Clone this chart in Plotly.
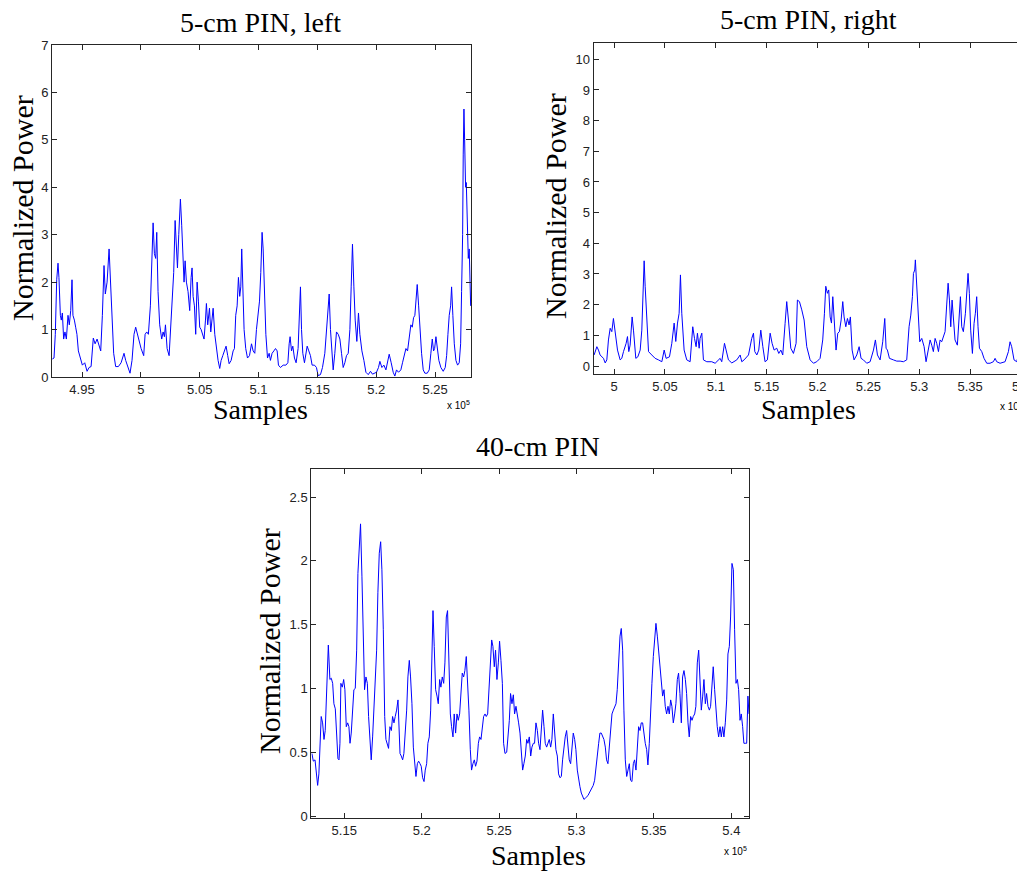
import plotly.graph_objects as go

# x values in units of 1e5 samples
left_x = [4.9248, 4.9262, 4.9273, 4.9285, 4.9296, 4.9304, 4.9316, 4.9324, 4.9333, 4.9344, 4.9355, 4.9367,
          4.9381, 4.9392, 4.9404, 4.9415, 4.9423, 4.9435, 4.9446, 4.9457, 4.9469, 4.9486, 4.9503, 4.9523,
          4.9543, 4.9560, 4.9577, 4.9596, 4.9611, 4.9628, 4.9645, 4.9659, 4.9673, 4.9687, 4.9698, 4.9713,
          4.9730, 4.9744, 4.9758, 4.9769, 4.9786, 4.9809, 4.9832, 4.9849, 4.9857, 4.9871, 4.9888, 4.9908,
          4.9925, 4.9942, 4.9956, 4.9970, 4.9985, 5.0002, 5.0024, 5.0036, 5.0050, 5.0064, 5.0081, 5.0092,
          5.0104, 5.0115, 5.0126, 5.0135, 5.0146, 5.0160, 5.0177, 5.0189, 5.0200, 5.0209, 5.0223, 5.0240,
          5.0254, 5.0268, 5.0279, 5.0291, 5.0302, 5.0311, 5.0322, 5.0330, 5.0336, 5.0347, 5.0356, 5.0367,
          5.0376, 5.0387, 5.0401, 5.0415, 5.0427, 5.0435, 5.0444, 5.0455, 5.0466, 5.0478, 5.0489, 5.0500,
          5.0512, 5.0523, 5.0537, 5.0549, 5.0557, 5.0568, 5.0583, 5.0594, 5.0605, 5.0614, 5.0628, 5.0642,
          5.0656, 5.0670, 5.0682, 5.0696, 5.0710, 5.0724, 5.0738, 5.0750, 5.0767, 5.0784, 5.0795, 5.0806,
          5.0818, 5.0829, 5.0840, 5.0849, 5.0857, 5.0866, 5.0877, 5.0891, 5.0906, 5.0923, 5.0940, 5.0954,
          5.0968, 5.0982, 5.0996, 5.1008, 5.1019, 5.1030, 5.1039, 5.1050, 5.1062, 5.1076, 5.1090, 5.1101,
          5.1115, 5.1130, 5.1144, 5.1158, 5.1169, 5.1186, 5.1209, 5.1232, 5.1249, 5.1260, 5.1268, 5.1280,
          5.1291, 5.1305, 5.1319, 5.1336, 5.1348, 5.1356, 5.1365, 5.1376, 5.1390, 5.1402, 5.1413, 5.1427,
          5.1441, 5.1455, 5.1475, 5.1492, 5.1506, 5.1526, 5.1543, 5.1563, 5.1577, 5.1591, 5.1600, 5.1611,
          5.1623, 5.1634, 5.1648, 5.1662, 5.1677, 5.1691, 5.1705, 5.1719, 5.1733, 5.1747, 5.1762, 5.1776,
          5.1787, 5.1798, 5.1810, 5.1821, 5.1835, 5.1849, 5.1861, 5.1878, 5.1895, 5.1912, 5.1932, 5.1951,
          5.1968, 5.1985, 5.2002, 5.2019, 5.2031, 5.2048, 5.2065, 5.2082, 5.2099, 5.2110, 5.2127, 5.2144,
          5.2158, 5.2172, 5.2189, 5.2209, 5.2223, 5.2240, 5.2252, 5.2266, 5.2280, 5.2294, 5.2306, 5.2317,
          5.2328, 5.2340, 5.2348, 5.2360, 5.2371, 5.2385, 5.2399, 5.2413, 5.2433, 5.2450, 5.2464, 5.2476,
          5.2487, 5.2496, 5.2507, 5.2518, 5.2532, 5.2549, 5.2569, 5.2586, 5.2598, 5.2609, 5.2620, 5.2632,
          5.2640, 5.2651, 5.2663, 5.2677, 5.2691, 5.2705, 5.2717, 5.2725, 5.2734, 5.2739, 5.2745, 5.2751,
          5.2759, 5.2765, 5.2773, 5.2782, 5.2790, 5.2796, 5.2802]
left_y = [0.38, 0.4, 0.9, 2.05, 2.4, 2.1, 1.3, 1.2, 1.35, 0.8, 0.95, 0.8,
          1.3, 1.1, 1.4, 2.05, 1.3, 1.2, 1.05, 0.9, 0.55, 0.4, 0.25, 0.3,
          0.12, 0.2, 0.22, 0.82, 0.7, 0.8, 0.65, 0.55, 1.3, 2.35, 1.75, 2.0,
          2.7, 1.95, 1.0, 0.5, 0.22, 0.22, 0.3, 0.45, 0.5, 0.35, 0.2, 0.08,
          0.35, 0.9, 1.05, 0.9, 0.75, 0.6, 0.45, 0.9, 0.95, 0.9, 1.5, 2.5,
          3.25, 2.6, 2.5, 3.05, 1.8, 1.1, 0.8, 0.95, 0.85, 1.1, 0.6, 0.45,
          1.0, 1.6, 2.2, 3.3, 2.6, 2.3, 3.0, 3.5, 3.75, 3.2, 2.6, 2.0,
          2.45, 2.0, 1.8, 1.4, 2.1, 2.3, 1.7, 1.5, 0.9, 2.0, 1.6, 1.05,
          1.0, 0.9, 0.8, 1.2, 1.55, 1.1, 1.45, 0.95, 1.2, 1.45, 0.9, 0.6,
          0.35, 0.18, 0.35, 0.45, 0.55, 0.65, 0.45, 0.28, 0.35, 0.55, 0.6, 1.3,
          1.5, 2.1, 1.7, 1.9, 2.7, 1.6, 1.0, 0.6, 0.4, 0.45, 0.7, 0.55,
          0.5, 1.0, 1.4, 1.6, 2.2, 3.05, 2.7, 1.6, 0.9, 0.4, 0.5, 0.35,
          0.5, 0.55, 0.6, 0.55, 0.25, 0.2, 0.25, 0.25, 0.3, 0.7, 0.85, 0.55,
          0.65, 0.4, 0.3, 0.6, 1.3, 1.9, 1.0, 0.5, 0.3, 0.55, 0.65, 0.55,
          0.45, 0.25, 0.25, 0.2, 0.03, 0.05, 0.2, 0.5, 0.95, 1.5, 1.75, 1.0,
          0.5, 0.15, 0.5, 0.95, 0.9, 0.8, 0.5, 0.2, 0.3, 0.45, 0.5, 1.0,
          1.9, 2.8, 1.9, 1.2, 0.75, 1.35, 0.9, 0.55, 0.35, 0.1, 0.05, 0.12,
          0.06, 0.08, 0.1, 0.2, 0.33, 0.2, 0.25, 0.15, 0.35, 0.48, 0.3, 0.1,
          0.02, 0.15, 0.1, 0.15, 0.3, 0.45, 0.6, 0.55, 0.8, 1.1, 1.05, 1.25,
          1.3, 1.6, 1.95, 1.5, 1.0, 0.5, 0.15, 0.08, 0.08, 0.15, 0.5, 0.8,
          0.55, 0.6, 0.85, 0.6, 0.35, 0.2, 0.12, 0.2, 0.45, 0.9, 1.3, 1.5,
          1.9, 1.3, 0.7, 0.35, 0.25, 0.3, 0.7, 1.8, 3.0, 4.7, 5.65, 5.0,
          4.0, 4.1, 3.2, 2.5, 2.7, 2.2, 1.5]

right_x = [4.9803, 4.9830, 4.9846, 4.9862, 4.9895, 4.9912, 4.9928, 4.9944, 4.9961, 4.9977, 4.9993, 5.0010,
           5.0033, 5.0059, 5.0075, 5.0092, 5.0118, 5.0131, 5.0144, 5.0157, 5.0177, 5.0190, 5.0213, 5.0233,
           5.0256, 5.0272, 5.0285, 5.0295, 5.0305, 5.0321, 5.0338, 5.0370, 5.0403, 5.0436, 5.0469, 5.0492,
           5.0511, 5.0544, 5.0567, 5.0590, 5.0606, 5.0623, 5.0639, 5.0652, 5.0665, 5.0688, 5.0714, 5.0747,
           5.0773, 5.0790, 5.0806, 5.0819, 5.0836, 5.0845, 5.0862, 5.0878, 5.0911, 5.0960, 5.0993, 5.1042,
           5.1058, 5.1085, 5.1101, 5.1124, 5.1157, 5.1206, 5.1239, 5.1255, 5.1278, 5.1321, 5.1353, 5.1370,
           5.1383, 5.1403, 5.1422, 5.1442, 5.1462, 5.1484, 5.1507, 5.1534, 5.1553, 5.1573, 5.1599, 5.1619,
           5.1639, 5.1658, 5.1681, 5.1697, 5.1714, 5.1737, 5.1763, 5.1789, 5.1802, 5.1822, 5.1845, 5.1868,
           5.1894, 5.1927, 5.1960, 5.1992, 5.2025, 5.2051, 5.2068, 5.2081, 5.2097, 5.2110, 5.2124, 5.2137,
           5.2150, 5.2163, 5.2182, 5.2199, 5.2215, 5.2232, 5.2248, 5.2261, 5.2278, 5.2294, 5.2310, 5.2323,
           5.2340, 5.2359, 5.2386, 5.2409, 5.2428, 5.2451, 5.2484, 5.2517, 5.2550, 5.2569, 5.2589, 5.2615,
           5.2641, 5.2661, 5.2674, 5.2687, 5.2707, 5.2746, 5.2779, 5.2812, 5.2844, 5.2877, 5.2900, 5.2917,
           5.2933, 5.2943, 5.2956, 5.2962, 5.2976, 5.2989, 5.3005, 5.3025, 5.3048, 5.3067, 5.3090, 5.3107,
           5.3123, 5.3139, 5.3156, 5.3172, 5.3189, 5.3205, 5.3221, 5.3238, 5.3254, 5.3270, 5.3284, 5.3297,
           5.3310, 5.3323, 5.3336, 5.3352, 5.3375, 5.3392, 5.3405, 5.3418, 5.3434, 5.3454, 5.3467, 5.3480,
           5.3493, 5.3506, 5.3523, 5.3539, 5.3552, 5.3565, 5.3578, 5.3592, 5.3615, 5.3637, 5.3664, 5.3696,
           5.3729, 5.3746, 5.3762, 5.3795, 5.3844, 5.3877, 5.3893, 5.3909, 5.3932, 5.3959, 5.3982, 5.4001,
           5.4011, 5.4024, 5.4037]
right_y = [0.36, 0.63, 0.52, 0.36, 0.25, 0.1, 0.2, 0.85, 1.23, 1.12, 1.55, 1.17,
           0.52, 0.2, 0.25, 0.47, 0.74, 0.96, 0.47, 0.68, 1.6, 1.17, 0.25, 0.3,
           0.52, 1.17, 2.7, 3.43, 2.6, 1.7, 0.47, 0.36, 0.25, 0.2, 0.14, 0.52,
           0.25, 0.3, 0.74, 1.4, 0.8, 1.4, 1.72, 2.97, 1.72, 0.52, 0.2, 0.14,
           1.28, 0.9, 0.63, 1.07, 0.58, 0.9, 1.07, 0.2, 0.14, 0.14, 0.09, 0.25,
           0.14, 0.74, 0.47, 0.2, 0.1, 0.2, 0.36, 0.14, 0.2, 0.36, 0.9, 1.07,
           0.47, 0.36, 0.52, 1.17, 0.63, 0.14, 0.2, 1.07, 0.74, 0.52, 0.58, 0.41,
           0.52, 0.36, 1.39, 2.1, 1.5, 0.58, 0.41, 0.74, 2.15, 2.1, 1.83, 1.5,
           0.63, 0.2, 0.09, 0.14, 0.25, 0.85, 1.72, 2.6, 2.37, 2.48, 1.6, 1.4,
           2.26, 1.5, 0.52, 1.07, 1.12, 1.5, 2.1, 1.6, 1.28, 1.55, 1.34, 1.6,
           0.52, 0.2, 0.36, 0.63, 0.25, 0.2, 0.09, 0.14, 0.52, 0.85, 0.36, 0.2,
           0.79, 1.55, 0.58, 0.52, 0.25, 0.2, 0.16, 0.16, 0.14, 0.2, 1.28, 1.66,
           2.26, 3.02, 3.13, 3.46, 2.48, 1.72, 0.79, 0.9, 0.63, 0.14, 0.52, 0.85,
           0.68, 0.47, 0.9, 0.74, 0.47, 0.85, 0.79, 1.01, 1.12, 1.99, 2.7, 2.15,
           1.28, 2.15, 1.39, 0.85, 0.68, 1.6, 2.26, 1.28, 1.12, 1.72, 2.37, 3.02,
           2.37, 1.17, 0.41, 1.39, 1.72, 2.26, 1.28, 0.58, 0.47, 0.25, 0.09, 0.09,
           0.14, 0.25, 0.14, 0.09, 0.14, 0.47, 0.79, 0.63, 0.2, 0.14, 0.47, 2.26,
           2.7, 2.26, 1.5]

long_x = [5.1291, 5.1300, 5.1311, 5.1321, 5.1328, 5.1336, 5.1343, 5.1351, 5.1360, 5.1369, 5.1377, 5.1386,
          5.1397, 5.1407, 5.1416, 5.1425, 5.1433, 5.1442, 5.1450, 5.1459, 5.1466, 5.1472, 5.1478, 5.1487,
          5.1496, 5.1504, 5.1513, 5.1522, 5.1530, 5.1537, 5.1545, 5.1554, 5.1562, 5.1571, 5.1580, 5.1588,
          5.1597, 5.1605, 5.1614, 5.1623, 5.1631, 5.1640, 5.1649, 5.1657, 5.1666, 5.1674, 5.1683, 5.1692,
          5.1700, 5.1709, 5.1717, 5.1726, 5.1735, 5.1743, 5.1752, 5.1761, 5.1769, 5.1778, 5.1786, 5.1795,
          5.1804, 5.1812, 5.1821, 5.1829, 5.1838, 5.1847, 5.1853, 5.1860, 5.1868, 5.1877, 5.1885, 5.1894,
          5.1903, 5.1911, 5.1920, 5.1928, 5.1937, 5.1946, 5.1954, 5.1963, 5.1972, 5.1980, 5.1989, 5.1997,
          5.2006, 5.2015, 5.2023, 5.2032, 5.2040, 5.2049, 5.2058, 5.2066, 5.2073, 5.2081, 5.2090, 5.2099,
          5.2107, 5.2116, 5.2124, 5.2133, 5.2142, 5.2150, 5.2159, 5.2167, 5.2176, 5.2185, 5.2193, 5.2202,
          5.2210, 5.2219, 5.2228, 5.2236, 5.2245, 5.2254, 5.2262, 5.2271, 5.2279, 5.2288, 5.2297, 5.2305,
          5.2314, 5.2322, 5.2331, 5.2340, 5.2348, 5.2357, 5.2366, 5.2374, 5.2383, 5.2391, 5.2400, 5.2409,
          5.2417, 5.2426, 5.2434, 5.2443, 5.2452, 5.2460, 5.2469, 5.2477, 5.2486, 5.2495, 5.2503, 5.2512,
          5.2521, 5.2529, 5.2538, 5.2549, 5.2557, 5.2566, 5.2574, 5.2583, 5.2592, 5.2600, 5.2609, 5.2617,
          5.2626, 5.2635, 5.2643, 5.2652, 5.2660, 5.2669, 5.2678, 5.2686, 5.2695, 5.2704, 5.2712, 5.2721,
          5.2729, 5.2738, 5.2747, 5.2755, 5.2764, 5.2772, 5.2781, 5.2790, 5.2798, 5.2807, 5.2815, 5.2824,
          5.2833, 5.2841, 5.2850, 5.2859, 5.2867, 5.2876, 5.2884, 5.2893, 5.2902, 5.2910, 5.2919, 5.2927,
          5.2936, 5.2945, 5.2953, 5.2962, 5.2971, 5.2979, 5.2988, 5.2996, 5.3005, 5.3014, 5.3022, 5.3031,
          5.3039, 5.3048, 5.3057, 5.3065, 5.3074, 5.3082, 5.3091, 5.3100, 5.3108, 5.3117, 5.3126, 5.3134,
          5.3143, 5.3151, 5.3160, 5.3169, 5.3177, 5.3186, 5.3194, 5.3203, 5.3212, 5.3220, 5.3229, 5.3238,
          5.3246, 5.3255, 5.3263, 5.3272, 5.3281, 5.3289, 5.3298, 5.3306, 5.3315, 5.3324, 5.3332, 5.3341,
          5.3349, 5.3358, 5.3367, 5.3375, 5.3384, 5.3392, 5.3401, 5.3410, 5.3418, 5.3427, 5.3436, 5.3444,
          5.3453, 5.3461, 5.3470, 5.3479, 5.3487, 5.3496, 5.3504, 5.3513, 5.3522, 5.3530, 5.3539, 5.3548,
          5.3556, 5.3565, 5.3573, 5.3582, 5.3591, 5.3599, 5.3608, 5.3616, 5.3625, 5.3634, 5.3642, 5.3651,
          5.3659, 5.3668, 5.3677, 5.3685, 5.3694, 5.3703, 5.3711, 5.3720, 5.3728, 5.3737, 5.3746, 5.3754,
          5.3763, 5.3771, 5.3780, 5.3789, 5.3797, 5.3806, 5.3815, 5.3823, 5.3832, 5.3840, 5.3849, 5.3858,
          5.3866, 5.3875, 5.3883, 5.3892, 5.3901, 5.3909, 5.3918, 5.3927, 5.3935, 5.3944, 5.3952, 5.3961,
          5.3970, 5.3978, 5.3987, 5.3995, 5.4004, 5.4013, 5.4021, 5.4030, 5.4039, 5.4047, 5.4056, 5.4064,
          5.4073, 5.4081, 5.4090, 5.4099, 5.4107, 5.4114]
long_y = [0.49, 0.43, 0.44, 0.28, 0.24, 0.33, 0.57, 0.78, 0.73, 0.6, 0.67, 0.99,
          1.34, 1.07, 1.08, 1.04, 0.88, 0.84, 0.65, 0.45, 0.44, 0.57, 1.04, 1.01,
          1.07, 0.99, 0.7, 0.73, 0.7, 0.57, 0.65, 0.83, 0.99, 1.0, 1.3, 1.9,
          2.14, 2.29, 1.88, 1.3, 0.99, 1.09, 1.04, 0.78, 0.57, 0.44, 0.62, 0.88,
          1.09, 1.3, 1.75, 2.06, 2.15, 1.93, 1.46, 0.78, 0.6, 0.57, 0.53, 0.7,
          0.67, 0.78, 0.73, 0.78, 0.83, 0.91, 0.67, 0.49, 0.47, 0.44, 0.49, 0.65,
          0.83, 1.09, 1.22, 1.09, 0.88, 0.54, 0.41, 0.31, 0.41, 0.43, 0.41, 0.39,
          0.3, 0.27, 0.36, 0.41, 0.57, 0.62, 0.83, 1.38, 1.61, 1.33, 0.99, 0.94,
          0.88, 1.07, 1.01, 1.09, 1.04, 1.2, 1.56, 1.61, 1.27, 0.8, 0.7, 0.62,
          0.8, 0.65, 0.8, 0.75, 0.8, 0.99, 1.12, 1.09, 1.14, 1.25, 1.07, 0.83,
          0.52, 0.36, 0.41, 0.44, 0.39, 0.43, 0.57, 0.62, 0.6, 0.67, 0.78, 0.8,
          0.78, 0.8, 0.99, 1.2, 1.38, 1.33, 1.17, 1.3, 1.07, 1.2, 1.37, 1.22,
          1.04, 0.57, 0.49, 0.5, 0.62, 0.75, 0.96, 0.88, 0.95, 0.8, 0.86, 0.78,
          0.73, 0.65, 0.47, 0.36, 0.41, 0.47, 0.6, 0.57, 0.62, 0.47, 0.54, 0.57,
          0.57, 0.73, 0.67, 0.57, 0.52, 0.67, 0.83, 0.7, 0.57, 0.54, 0.57, 0.6,
          0.54, 0.6, 0.8, 0.62, 0.52, 0.47, 0.33, 0.3, 0.31, 0.44, 0.57, 0.62,
          0.67, 0.57, 0.44, 0.41, 0.57, 0.65, 0.6, 0.52, 0.36, 0.28, 0.23, 0.18,
          0.15, 0.13, 0.14, 0.15, 0.16, 0.18, 0.2, 0.23, 0.24, 0.28, 0.36, 0.47,
          0.57, 0.65, 0.65, 0.62, 0.6, 0.54, 0.44, 0.41, 0.57, 0.7, 0.8, 0.83,
          0.86, 0.88, 0.99, 1.25, 1.41, 1.47, 1.3, 0.83, 0.44, 0.31, 0.36, 0.41,
          0.28, 0.27, 0.41, 0.44, 0.36, 0.52, 0.7, 0.67, 0.73, 0.73, 0.62, 0.57,
          0.52, 0.4, 0.57, 0.88, 1.04, 1.25, 1.41, 1.51, 1.41, 1.3, 1.17, 1.04,
          0.94, 0.99, 0.86, 0.8, 0.86, 0.8, 0.91, 0.86, 0.73, 0.8, 0.88, 1.07,
          1.12, 0.96, 0.73, 1.09, 1.14, 1.07, 0.96, 0.73, 0.62, 0.78, 0.75, 0.78,
          0.8, 0.86, 1.2, 1.3, 0.99, 0.83, 0.94, 1.07, 0.88, 0.96, 0.86, 0.83,
          0.86, 1.07, 1.17, 0.99, 0.78, 0.7, 0.62, 0.7, 0.62, 0.7, 0.62, 0.73,
          0.91, 1.27, 1.33, 1.56, 1.98, 1.93, 1.46, 1.04, 1.07, 0.99, 0.75, 0.8,
          0.7, 0.57, 0.57, 0.57, 0.94, 0.8]

left_ticks = [4.95, 5.0, 5.05, 5.1, 5.15, 5.2, 5.25]
left_ticktext = ['4.95', '5', '5.05', '5.1', '5.15', '5.2', '5.25']
right_ticks = [5.0, 5.05, 5.1, 5.15, 5.2, 5.25, 5.3, 5.35, 5.4]
right_ticktext = ['5', '5.05', '5.1', '5.15', '5.2', '5.25', '5.3', '5.35', '5.4']
long_ticks = [5.15, 5.2, 5.25, 5.3, 5.35, 5.4]
long_ticktext = ['5.15', '5.2', '5.25', '5.3', '5.35', '5.4']

# the page puts the plot 8px in from the top-left corner, so the figure is
# sized to fill the rest of the window and positions below are page pixels
OFF = 8
W, H = 1025 - OFF, 872 - OFF
serif = 'Liberation Serif, Times New Roman, serif'
sans = 'Liberation Sans, Arial, sans-serif'
line_col = '#262626'


def px(x):
    return (x - OFF) / W


def py(y):
    return 1 - (y - OFF) / H


def axis(dom, rng, anchor, tickvals, ticktext=None):
    d = dict(domain=dom, range=rng, anchor=anchor, tickvals=tickvals, automargin=False,
             showline=True, linecolor=line_col, linewidth=1, mirror='ticks',
             ticks='inside', ticklen=5, tickcolor=line_col, showgrid=False, zeroline=False,
             ticklabeloverflow='allow',
             tickfont=dict(family=sans, size=13, color='#222'))
    if ticktext is not None:
        d['ticktext'] = ticktext
    return d


fig = go.Figure()
blue = dict(color='#0000ff', width=1)
fig.add_trace(go.Scatter(x=left_x, y=left_y, mode='lines', line=blue, xaxis='x', yaxis='y'))
fig.add_trace(go.Scatter(x=right_x, y=right_y, mode='lines', line=blue, xaxis='x2', yaxis='y2'))
fig.add_trace(go.Scatter(x=long_x, y=long_y, mode='lines', line=blue, xaxis='x3', yaxis='y3'))

fig.update_layout(
    width=W, height=H, margin=dict(l=0, r=0, t=0, b=0, pad=0),
    paper_bgcolor='white', plot_bgcolor='white', showlegend=False,
    xaxis=axis([px(52), px(471)], [4.9245, 5.2805], 'y', left_ticks, left_ticktext),
    yaxis=axis([py(377), py(45)], [0, 7], 'x', list(range(0, 8))),
    xaxis2=axis([px(593.5), 1.0], [4.9797, 5.404], 'y2', right_ticks, right_ticktext),
    yaxis2=axis([py(374.3), py(42.7)], [-0.27, 10.54], 'x2', list(range(0, 11))),
    xaxis3=axis([px(311.3), px(749)], [5.1287, 5.4114], 'y3', long_ticks, long_ticktext),
    yaxis3=axis([py(818.3), py(469)], [-0.018, 2.72], 'x3', [0, 0.5, 1, 1.5, 2, 2.5],
                ['0', '0.5', '1', '1.5', '2', '2.5']),
)


def label(text, x, y, size, angle=0, font=serif):
    fig.add_annotation(text=text, x=px(x), y=py(y), xref='paper', yref='paper',
                       showarrow=False, textangle=angle, xanchor='center', yanchor='middle',
                       font=dict(family=font, size=size, color='black'))


label('5-cm PIN, left', 260, 22, 28)
label('5-cm PIN, right', 808, 19, 28)
label('40-cm PIN', 538, 446, 28)
label('Samples', 260, 409, 28)
label('Samples', 808, 409, 28)
label('Samples', 538, 855, 28)
label('Normalized Power', 22, 208, 30, -90)
label('Normalized Power', 556, 206, 30, -90)
label('Normalized Power', 269, 641, 30, -90)
label('x 10<sup>5</sup>', 458, 405, 10, font=sans)
label('x 10<sup>5</sup>', 1011, 406, 10, font=sans)
label('x 10<sup>5</sup>', 735, 851, 10, font=sans)

fig.write_html("out.html")
